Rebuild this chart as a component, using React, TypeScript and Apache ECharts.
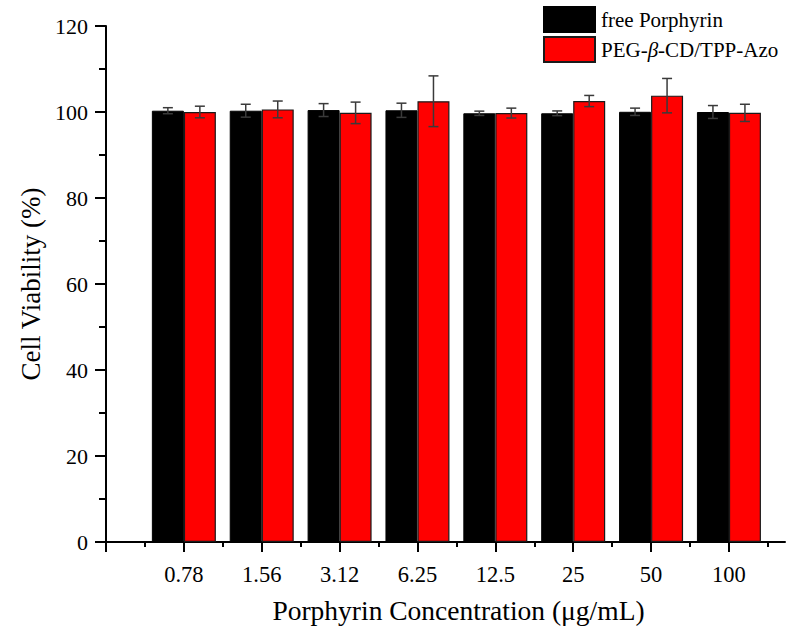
import React, { useEffect, useRef } from "react";
import * as echarts from "echarts";

const categories = ["0.78", "1.56", "3.12", "6.25", "12.5", "25", "50", "100"];
const freeMean = [100.3, 100.3, 100.45, 100.4, 99.7, 99.7, 100.05, 100.0];
const freeErr = [0.7, 1.5, 1.5, 1.65, 0.5, 0.55, 0.85, 1.5];
const pegMean = [100.0, 100.6, 99.8, 102.5, 99.75, 102.55, 103.8, 99.8];
const pegErr = [1.35, 1.95, 2.5, 5.9, 1.15, 1.3, 4.0, 2.0];
const seriesNames = ["free Porphyrin", "PEG-β-CD/TPP-Azo"];
const yTicks = [0, 20, 40, 60, 80, 100, 120];

const FONT = "Liberation Serif";
const BAR_W = 32;

export default function App() {
  const ref = useRef<HTMLDivElement>(null);
  useEffect(() => {
    if (!ref.current) return;
    const chart = echarts.init(ref.current, null, { renderer: "svg" });
    const positions = categories.map((_, i) => i + 1);
    const majorTicks = [0, ...positions];
    const minorTicks = [0, ...positions].map((p) => p + 0.5);
    const xMax = 8.72;
    const gridBox = { left: 106, right: 800 - 106 - Math.round(8.72 * 77.9), top: 26, bottom: 95 };

    const errSeries = (mean: number[], err: number[], offset: number) => ({
      type: "custom",
      xAxisIndex: 0,
      yAxisIndex: 0,
      z: 5,
      silent: true,
      data: positions.map((p, i) => [p, mean[i], err[i]]),
      encode: { x: 0, y: 1 },
      renderItem: (params: any, api: any) => {
        const x = api.value(0);
        const m = api.value(1);
        const e = api.value(2);
        const top = api.coord([x, m + e]);
        const bot = api.coord([x, m - e]);
        const cx = top[0] + offset;
        const style = { stroke: "#3a3a3a", lineWidth: 1.5 };
        return {
          type: "group",
          children: [
            { type: "line", shape: { x1: cx, y1: top[1], x2: cx, y2: bot[1] }, style },
            { type: "line", shape: { x1: cx - 5, y1: top[1], x2: cx + 5, y2: top[1] }, style },
            { type: "line", shape: { x1: cx - 5, y1: bot[1], x2: cx + 5, y2: bot[1] }, style },
          ],
        };
      },
    });

    chart.setOption({
      animation: false,
      backgroundColor: "#ffffff",
      textStyle: { fontFamily: FONT },
      legend: {
        data: seriesNames,
        orient: "vertical",
        left: 543,
        top: 6,
        padding: 0,
        itemWidth: 51,
        itemHeight: 25,
        itemGap: 3,
        icon: "rect",
        textStyle: {
          fontFamily: FONT,
          fontSize: 21,
          color: "#000",
          padding: [0, 0, 0, 1],
          rich: {
            n: { fontFamily: FONT, fontSize: 21, color: "#000" },
            i: { fontFamily: FONT, fontSize: 21, color: "#000", fontStyle: "italic" },
          },
        },
        formatter: (name: string) => {
          if (name.includes("β")) {
            const parts = name.split("β");
            return `{n|${parts[0]}}{i|β}{n|${parts[1]}}`;
          }
          return `{n|${name}}`;
        },
      },
      grid: [
        { ...gridBox, containLabel: false },
        { ...gridBox, containLabel: false },
      ],
      xAxis: [
        {
          type: "value",
          gridIndex: 0,
          min: 0,
          max: xMax,
          interval: 1,
          name: "Porphyrin Concentration (μg/mL)",
          nameLocation: "middle",
          nameGap: 54,
          nameTextStyle: { fontFamily: FONT, fontSize: 27.5, color: "#000", padding: [0, 0, 0, 26] },
          axisLine: { show: true, onZero: false, lineStyle: { color: "#000", width: 2 } },
          axisTick: {
            show: true,
            inside: false,
            length: 10,
            customValues: majorTicks,
            lineStyle: { color: "#000", width: 2 },
          },
          axisLabel: {
            show: true,
            margin: 21,
            customValues: positions,
            fontFamily: FONT,
            fontSize: 22.5,
            color: "#000",
            formatter: (v: number) => categories[Math.round(v) - 1] ?? "",
          },
          splitLine: { show: false },
        },
        {
          type: "value",
          gridIndex: 1,
          min: 0,
          max: xMax,
          interval: 1,
          axisLine: { show: false },
          axisTick: {
            show: true,
            inside: false,
            length: 5,
            customValues: minorTicks,
            lineStyle: { color: "#000", width: 2 },
          },
          axisLabel: { show: false },
          splitLine: { show: false },
        },
      ],
      yAxis: [
        {
          type: "value",
          gridIndex: 0,
          min: 0,
          max: 120,
          interval: 20,
          name: "Cell Viability (%)",
          nameLocation: "middle",
          nameRotate: 90,
          nameGap: 58,
          nameTextStyle: { fontFamily: FONT, fontSize: 27, color: "#000" },
          axisLine: { show: true, lineStyle: { color: "#000", width: 2 } },
          axisTick: { show: true, inside: false, length: 11, lineStyle: { color: "#000", width: 2 } },
          minorTick: { show: true, splitNumber: 2, length: 7, lineStyle: { color: "#000", width: 2 } },
          axisLabel: {
            margin: 18,
            fontFamily: FONT,
            fontSize: 22,
            color: "#000",
            formatter: (v: number) => (yTicks.includes(v) ? String(v) : ""),
          },
          splitLine: { show: false },
          minorSplitLine: { show: false },
        },
        {
          type: "value",
          gridIndex: 1,
          min: 0,
          max: 120,
          show: false,
        },
      ],
      series: [
        {
          name: seriesNames[0],
          type: "bar",
          xAxisIndex: 0,
          yAxisIndex: 0,
          barWidth: BAR_W,
          barGap: "0%",
          itemStyle: { color: "#000000", borderColor: "#000000", borderWidth: 1 },
          data: positions.map((p, i) => [p, freeMean[i]]),
        },
        {
          name: seriesNames[1],
          type: "bar",
          xAxisIndex: 0,
          yAxisIndex: 0,
          barWidth: BAR_W,
          barGap: "0%",
          itemStyle: { color: "#ff0000", borderColor: "#1a1a1a", borderWidth: 1.2 },
          data: positions.map((p, i) => [p, pegMean[i]]),
        },
        errSeries(freeMean, freeErr, -BAR_W / 2),
        errSeries(pegMean, pegErr, BAR_W / 2),
      ],
    });
    return () => chart.dispose();
  }, []);
  return (
    <div
      ref={ref}
      style={{ position: "fixed", left: 0, top: 0, width: 800, height: 637, background: "#fff" }}
    />
  );
}
